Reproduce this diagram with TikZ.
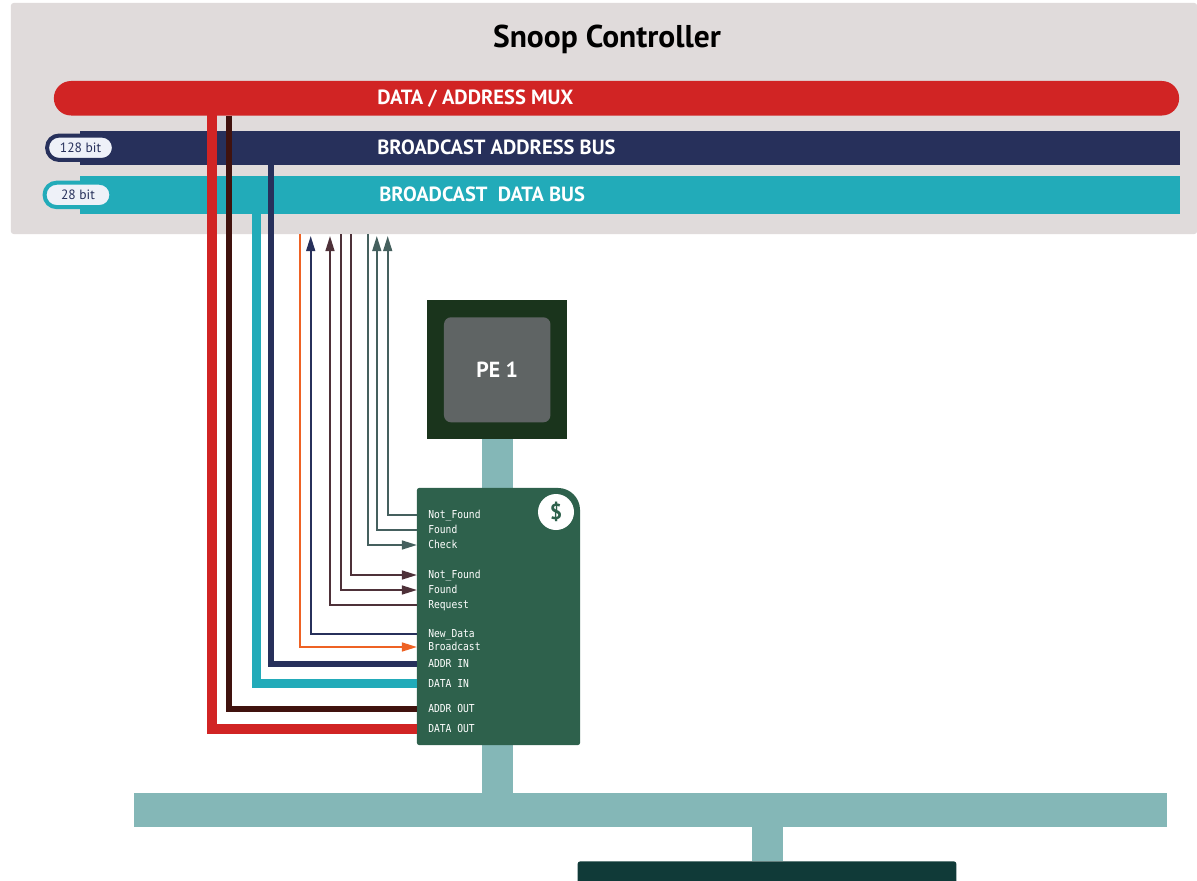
\documentclass[tikz,border=0pt]{standalone}
\usepackage{fontspec}
\setmainfont{PT Sans}
\newfontfamily\portfont[FakeStretch=0.88]{DejaVu Sans Mono}
\usepackage{xcolor}
\usetikzlibrary{arrows.meta, calc}
\definecolor{PanelGray}{HTML}{E0DBDB}
\definecolor{MuxRed}{HTML}{D12424}
\definecolor{AddrNavy}{HTML}{27305B}
\definecolor{DataTeal}{HTML}{22ABB9}
\definecolor{OutBrown}{HTML}{40120E}
\definecolor{SigOrange}{HTML}{EE6224}
\definecolor{SigPlum}{HTML}{4E3139}
\definecolor{SigSlate}{HTML}{45605E}
\definecolor{CacheGreen}{HTML}{2E614C}
\definecolor{PeDark}{HTML}{1A341C}
\definecolor{PeGray}{HTML}{5F6464}
\definecolor{LinkTeal}{HTML}{84B7B7}
\definecolor{MemDark}{HTML}{103A38}
\definecolor{PillWhite}{HTML}{EEF1F8}

\begin{document}
\begin{tikzpicture}[x=0.025cm, y=-0.025cm,
        bus/.style={minimum height=0.85cm, inner sep=0pt, outer sep=0pt},
        bustext/.style={anchor=base west, inner sep=0pt, text=white, font=\fontsize{14.6}{17}\selectfont\bfseries},
        pill/.style={rounded corners=0.3cm, line width=0.1cm, fill=PillWhite, minimum width=1.67cm, minimum height=0.61cm,
                    inner sep=0pt, text=AddrNavy, font=\fontsize{9.6}{12}\selectfont},
        link/.style={fill=LinkTeal, inner sep=0pt, outer sep=0pt},
        port/.style={anchor=west, inner sep=0pt, text=white, text height=5.6pt, text depth=0pt,
                    font=\portfont\fontsize{7.8}{9}\selectfont},
        sig/.style={line width=1.35pt},
        sigtip/.style={sig, -{Triangle[length=0.375cm, width=0.22cm]}},
        wide/.style={line width=#1*0.025cm}]
        \useasboundingbox (0,0) rectangle (1197,881);
        \clip (0,0) rectangle (1197,881);
        % snoop controller
        \node[fill=PanelGray, rounded corners=2pt, minimum width=29.65cm, minimum height=5.775cm, inner sep=0pt] (panel) at (604,118.5) {};
        \node[anchor=base, inner sep=0pt, text=black, font=\fontsize{22.4}{26}\selectfont\bfseries] (title) at (607,47) {Snoop Controller};
        \node[bus, fill=MuxRed, rounded corners=0.43cm, minimum width=28.125cm, minimum height=0.8625cm] (mux) at (616.5,98.25) {};
        \node[bus, fill=AddrNavy, minimum width=27.5cm] (addrbus) at (630,148) {};
        \node[bus, fill=DataTeal, minimum width=27.5cm, minimum height=0.9375cm] (databus) at (630,194.75) {};
        \node[pill, draw=AddrNavy] (addrwidth) at (80.5,147.75) {128 bit};
        \node[pill, draw=DataTeal] (datawidth) at (78,194.9) {28 bit};
        \node[bustext] (muxtext) at (377,104.5) {DATA / ADDRESS MUX};
        \node[bustext] (addrtext) at (377,154.5) {BROADCAST ADDRESS BUS};
        \node[bustext] (datatext) at (379,201) {BROADCAST\ \ DATA BUS};
        % PE, cache, memory
        \node[fill=PeDark, minimum width=3.5cm, minimum height=3.47cm, inner sep=0pt, outer sep=0pt] (pe) at (497.2,369.7) {};
        \node[fill=PeGray, rounded corners=5pt, minimum width=2.66cm, minimum height=2.625cm, inner sep=0pt,
              text=white, font=\fontsize{15.5}{18}\selectfont\bfseries] (pecore) at (497.2,369.8) {PE 1};
        \node[inner sep=0pt, outer sep=0pt, minimum width=4.075cm, minimum height=6.425cm] (cache) at (498.5,616.5) {};
        \node[link, minimum width=0.77cm, minimum height=1.225cm] (pelink) at (497.3,463.5) {};
        \node[link, minimum width=0.77cm, minimum height=1.2cm] (buslink) at (497.3,769) {};
        \node[link, minimum width=25.825cm, minimum height=0.865cm] (sysbus) at (650.5,810) {};
        \node[link, minimum width=0.77cm, minimum height=0.85cm] (memlink) at (767.6,844) {};
        \node[fill=MemDark, rounded corners=2pt, minimum width=9.47cm, minimum height=1.5cm, inner sep=0pt, anchor=north] (mem) at (767,861) {};
        \fill[CacheGreen, rounded corners=1.5pt] (cache.north) -- (cache.north west) -- (cache.south west) -- (cache.south east) [rounded corners=0.55cm] -- (cache.north east) -- cycle;
        \node[circle, fill=white, minimum size=0.9cm, inner sep=0pt, text=CacheGreen, font=\fontsize{15.5}{18}\selectfont\bfseries] (cachesign) at (556,512) {\$};
        % cache ports
        \node[port] (snpmiss) at (428,515) {Not\_Found};
        \node[port] (snphit) at (428,530) {Found};
        \node[port] (snpcheck) at (428,545) {Check};
        \node[port] (reqmiss) at (428,575) {Not\_Found};
        \node[port] (reqhit) at (428,590) {Found};
        \node[port] (reqsend) at (428,605) {Request};
        \node[port] (newdata) at (428,634) {New\_Data};
        \node[port] (bcast) at (428,647) {Broadcast};
        \node[port] (addrin) at (428,664) {ADDR IN};
        \node[port] (datain) at (428,683.5) {DATA IN};
        \node[port] (addrout) at (428,709) {ADDR OUT};
        \node[port] (dataout) at (428,728.7) {DATA OUT};
        % tap points on the controller
        \coordinate (tapred) at (212,110);
        \coordinate (tapbrown) at (228.7,115.5);
        \coordinate (tapaddr) at (271,165);
        \coordinate (tapdata) at (256.7,213.5);
        \coordinate (tapbcast) at (300,234);
        \coordinate (tapnew) at (310.7,236);
        \coordinate (tapreq) at (330,236);
        \coordinate (taphit) at (341,234);
        \coordinate (tapmiss) at (351,234);
        \coordinate (tapcheck) at (368,234);
        \coordinate (tapsnphit) at (376.8,236);
        \coordinate (tapsnpmiss) at (387.7,236);
        % buses to the cache
        \draw[MuxRed, wide=10] (tapred) |- (cache.west |- dataout);
        \draw[OutBrown, wide=6.3] (tapbrown) |- (cache.west |- addrout);
        \draw[DataTeal, wide=8.8] (tapdata) |- (cache.west |- datain);
        \draw[AddrNavy, wide=5.6] (tapaddr) |- (cache.west |- addrin);
        % control signals
        \draw[sigtip, SigOrange] (tapbcast) |- (cache.west |- bcast);
        \draw[sigtip, AddrNavy] (cache.west |- newdata) -| (tapnew);
        \draw[sigtip, SigPlum] (cache.west |- reqsend) -| (tapreq);
        \draw[sigtip, SigPlum] (taphit) |- (cache.west |- reqhit);
        \draw[sigtip, SigPlum] (tapmiss) |- (cache.west |- reqmiss);
        \draw[sigtip, SigSlate] (tapcheck) |- (cache.west |- snpcheck);
        \draw[sigtip, SigSlate] (cache.west |- snphit) -| (tapsnphit);
        \draw[sigtip, SigSlate] (cache.west |- snpmiss) -| (tapsnpmiss);
      \end{tikzpicture}
\end{document}
